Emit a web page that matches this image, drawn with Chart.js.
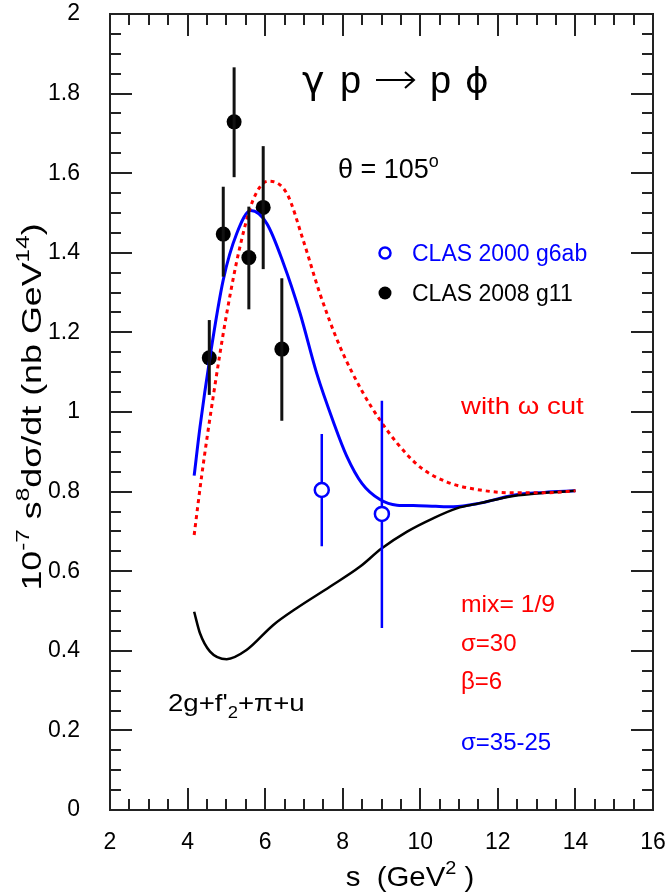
<!DOCTYPE html>
<html>
<head>
<meta charset="utf-8">
<script src="https://cdn.jsdelivr.net/npm/chart.js@4.4.0/dist/chart.umd.min.js"></script>
<style>
  html, body { margin: 0; padding: 0; background: #fff; }
  #wrap { width: 669px; height: 895px; }
</style>
</head>
<body>
<div id="wrap"><canvas id="myChart" width="669" height="895"></canvas></div>
<script>
const FONT = '"Liberation Sans", Arial, Helvetica, sans-serif';

// model curves (s in GeV^2)
const blueS = [4.17, 4.32, 4.58, 4.92, 5.27, 5.63, 6.04, 6.47, 6.90, 7.33, 7.76, 8.10, 8.50, 8.96, 9.40, 9.82, 10.40, 10.85, 11.54, 12.40, 13.20, 14.0];
const blueY = [0.840, 0.962, 1.139, 1.332, 1.449, 1.506, 1.474, 1.374, 1.248, 1.097, 0.975, 0.890, 0.820, 0.780, 0.766, 0.765, 0.763, 0.762, 0.771, 0.791, 0.798, 0.802];

const redS = [4.17, 4.36, 4.66, 5.01, 5.35, 5.69, 6.08, 6.56, 6.98, 7.41, 7.93, 8.53, 8.96, 9.40, 9.99, 10.69, 11.54, 12.39, 13.27, 14.0];
const redY = [0.691, 0.837, 1.038, 1.248, 1.415, 1.533, 1.580, 1.549, 1.432, 1.298, 1.164, 1.047, 0.980, 0.922, 0.862, 0.824, 0.804, 0.797, 0.797, 0.802];

const blackS = [4.17, 4.32, 4.58, 5.01, 5.52, 6.21, 6.81, 7.67, 8.44, 9.00, 9.65, 10.33, 10.94, 11.54, 12.40, 13.20, 14.0];
const blackY = [0.498, 0.444, 0.398, 0.379, 0.402, 0.465, 0.507, 0.561, 0.611, 0.657, 0.699, 0.733, 0.758, 0.771, 0.789, 0.797, 0.802];

// CLAS 2008 g11
const g11S = [4.56, 4.92, 5.20, 5.58, 5.95, 6.43];
const g11Y = [1.136, 1.447, 1.729, 1.388, 1.514, 1.158];
const g11Lo = [1.043, 1.340, 1.590, 1.258, 1.359, 0.978];
const g11Hi = [1.231, 1.566, 1.866, 1.516, 1.668, 1.336];

// CLAS 2000 g6ab
const g6S = [7.46, 9.01];
const g6Y = [0.804, 0.744];
const g6Lo = [0.663, 0.457];
const g6Hi = [0.945, 1.028];

const xTicks = [2, 4, 6, 8, 10, 12, 14, 16];
const yTicks = [0, 0.2, 0.4, 0.6, 0.8, 1, 1.2, 1.4, 1.6, 1.8, 2];

const BLUE = '#0000ff';
const RED = '#ff0000';

function pts(xs, ys) {
  return xs.map((x, i) => ({ x: x, y: ys[i] }));
}

// text with super/subscripts: parts = [[text, mode]], mode 1 = sup, -1 = sub
// stretch widens the glyphs along the baseline
function richText(ctx, x, y, parts, size, color, align, stretch) {
  const k = stretch || 1;
  const fontFor = m => (m ? Math.round(size * 0.68) : size) + 'px ' + FONT;
  ctx.save();
  ctx.fillStyle = color;
  ctx.textBaseline = 'alphabetic';
  ctx.textAlign = 'left';
  let w = 0;
  parts.forEach(p => { ctx.font = fontFor(p[1]); w += ctx.measureText(p[0]).width; });
  ctx.translate(align === 'center' ? x - w * k / 2 : x, y);
  ctx.scale(k, 1);
  let cx = 0;
  parts.forEach(p => {
    ctx.font = fontFor(p[1]);
    const dy = p[1] === 1 ? -size * 0.42 : (p[1] === -1 ? size * 0.28 : 0);
    ctx.fillText(p[0], cx, dy);
    cx += ctx.measureText(p[0]).width;
  });
  ctx.restore();
}

const errorBars = {
  id: 'errorBars',
  afterDatasetsDraw(chart) {
    const ctx = chart.ctx;
    const xs = chart.scales.x, ys = chart.scales.y;
    ctx.save();
    ctx.lineCap = 'butt';
    ctx.lineWidth = 3;
    ctx.strokeStyle = '#111';
    g11S.forEach((s, i) => {
      const px = xs.getPixelForValue(s);
      ctx.beginPath();
      ctx.moveTo(px, ys.getPixelForValue(g11Lo[i]));
      ctx.lineTo(px, ys.getPixelForValue(g11Hi[i]));
      ctx.stroke();
    });
    ctx.lineWidth = 2.5;
    ctx.strokeStyle = BLUE;
    g6S.forEach((s, i) => {
      const px = xs.getPixelForValue(s);
      const py = ys.getPixelForValue(g6Y[i]);
      ctx.beginPath();
      ctx.moveTo(px, ys.getPixelForValue(g6Lo[i]));
      ctx.lineTo(px, py + 7);
      ctx.moveTo(px, py - 7);
      ctx.lineTo(px, ys.getPixelForValue(g6Hi[i]));
      ctx.stroke();
    });
    ctx.restore();
  }
};

// frame with inward major/minor ticks on all four sides
const frame = {
  id: 'frame',
  afterDraw(chart) {
    const ctx = chart.ctx;
    const a = chart.chartArea;
    const xs = chart.scales.x, ys = chart.scales.y;
    ctx.save();
    ctx.strokeStyle = '#222';
    ctx.lineWidth = 2;
    ctx.strokeRect(a.left, a.top, a.right - a.left, a.bottom - a.top);
    ctx.beginPath();
    for (let v = 2; v <= 16.001; v += 0.5) {
      const px = Math.round(xs.getPixelForValue(v));
      const len = Math.abs(v / 2 - Math.round(v / 2)) < 1e-6 ? 22 : 11;
      ctx.moveTo(px, a.bottom); ctx.lineTo(px, a.bottom - len);
      ctx.moveTo(px, a.top); ctx.lineTo(px, a.top + len);
    }
    for (let v = 0; v <= 2.0001; v += 0.05) {
      const py = Math.round(ys.getPixelForValue(v));
      const len = Math.abs(v / 0.2 - Math.round(v / 0.2)) < 1e-6 ? 22 : 11;
      ctx.moveTo(a.left, py); ctx.lineTo(a.left + len, py);
      ctx.moveTo(a.right, py); ctx.lineTo(a.right - len, py);
    }
    ctx.stroke();
    ctx.restore();
  }
};

const labels = {
  id: 'labels',
  afterDraw(chart) {
    const ctx = chart.ctx;
    ctx.save();
    // reaction
    ctx.fillStyle = '#000';
    ctx.textBaseline = 'alphabetic';
    ctx.textAlign = 'left';
    ctx.font = '38px "DejaVu Sans", sans-serif';
    ctx.fillText('γ', 302, 93);
    ctx.font = '38px ' + FONT;
    ctx.fillText('p', 340, 93);
    ctx.fillText('p', 430, 93);
    ctx.font = '36px "DejaVu Sans", sans-serif';
    ctx.fillText('ϕ', 465, 93);
    // long arrow
    ctx.strokeStyle = '#000';
    ctx.lineWidth = 2;
    ctx.beginPath();
    ctx.moveTo(376, 80); ctx.lineTo(414, 80);
    ctx.moveTo(405, 72); ctx.lineTo(414, 80); ctx.lineTo(405, 88);
    ctx.stroke();

    richText(ctx, 338, 178, [['θ = 105', 0], ['o', 1]], 27, '#000');

    // legend
    ctx.lineWidth = 2.5;
    ctx.strokeStyle = BLUE;
    ctx.beginPath();
    ctx.arc(385, 253, 5.5, 0, Math.PI * 2);
    ctx.stroke();
    ctx.fillStyle = '#000';
    ctx.beginPath();
    ctx.arc(385, 293, 6.5, 0, Math.PI * 2);
    ctx.fill();
    richText(ctx, 412, 261, [['CLAS 2000 g6ab', 0]], 23, BLUE);
    richText(ctx, 412, 301, [['CLAS 2008 g11', 0]], 23, '#000');

    richText(ctx, 461, 414, [['with ω cut', 0]], 24, RED, 'left', 1.15);
    richText(ctx, 461, 612, [['mix= 1/9', 0]], 24, RED, 'left', 1.03);
    richText(ctx, 461, 651, [['σ=30', 0]], 24, RED);
    richText(ctx, 461, 689, [['β=6', 0]], 24, RED);
    richText(ctx, 461, 750, [['σ=35-25', 0]], 24, BLUE);
    richText(ctx, 168, 711, [["2g+f'", 0], ['2', -1], ['+π+u', 0]], 24, '#000', 'left', 1.15);

    // axis titles
    richText(ctx, 410, 886, [['s  (GeV', 0], ['2', 1], [' )', 0]], 28, '#000', 'center', 1.05);
    ctx.translate(41, 407);
    ctx.rotate(-Math.PI / 2);
    richText(ctx, 0, 0, [['10', 0], ['-7', 1], [' s', 0], ['8', 1], ['dσ/dt (nb GeV', 0], ['14', 1], [')', 0]], 28, '#000', 'center', 1.28);
    ctx.restore();
  }
};

// drop the automatic label-overflow padding so the frame sits where the layout puts it
function noPad(scale) {
  scale.paddingLeft = 0;
  scale.paddingRight = 0;
  scale.paddingTop = 0;
  scale.paddingBottom = 0;
}

const config = {
  type: 'scatter',
  data: {
    datasets: [
      {
        label: 'with omega cut',
        data: pts(redS, redY),
        showLine: true,
        borderColor: RED,
        borderWidth: 3,
        borderDash: [4, 4],
        pointRadius: 0,
        cubicInterpolationMode: 'monotone',
      },
      {
        label: '2g+f2+pi+u',
        data: pts(blackS, blackY),
        showLine: true,
        borderColor: '#000',
        borderWidth: 2.5,
        pointRadius: 0,
        cubicInterpolationMode: 'monotone',
      },
      {
        label: 'sigma=35-25',
        data: pts(blueS, blueY),
        showLine: true,
        borderColor: BLUE,
        borderWidth: 3,
        pointRadius: 0,
        cubicInterpolationMode: 'monotone',
      },
      {
        label: 'CLAS 2008 g11',
        data: pts(g11S, g11Y),
        showLine: false,
        pointRadius: 7.5,
        pointBackgroundColor: '#000',
        pointBorderColor: '#000',
        pointBorderWidth: 0,
      },
      {
        label: 'CLAS 2000 g6ab',
        data: pts(g6S, g6Y),
        showLine: false,
        pointRadius: 7,
        pointBackgroundColor: 'rgba(255,255,255,0)',
        pointBorderColor: BLUE,
        pointBorderWidth: 2.5,
      },
    ],
  },
  options: {
    responsive: false,
    animation: false,
    devicePixelRatio: 1,
    layout: { padding: { left: 0, top: 14, right: 16, bottom: 0 } },
    plugins: {
      legend: { display: false },
      tooltip: { enabled: false },
    },
    scales: {
      x: {
        type: 'linear',
        min: 2,
        max: 16,
        afterFit(scale) { scale.height = 85; noPad(scale); },
        afterBuildTicks(scale) { scale.ticks = xTicks.map(v => ({ value: v })); },
        grid: { display: true, drawOnChartArea: false, drawTicks: false },
        border: { display: false },
        ticks: {
          padding: 19,
          color: '#000',
          font: { family: FONT, size: 23 },
          maxRotation: 0,
          callback: v => String(v),
        },
      },
      y: {
        type: 'linear',
        min: 0,
        max: 2,
        afterFit(scale) { scale.width = 110; noPad(scale); },
        afterBuildTicks(scale) { scale.ticks = yTicks.map(v => ({ value: v })); },
        grid: { display: true, drawOnChartArea: false, drawTicks: false },
        border: { display: false },
        ticks: {
          padding: 30,
          color: '#000',
          font: { family: FONT, size: 23 },
          callback: v => String(+v.toFixed(1)),
        },
      },
    },
  },
  plugins: [errorBars, frame, labels],
};

const myChart = new Chart(document.getElementById('myChart'), config);
</script>
</body>
</html>
